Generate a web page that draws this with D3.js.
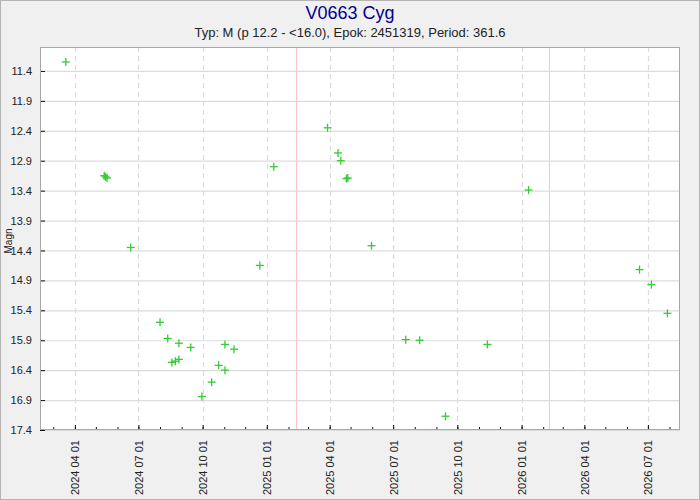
<!DOCTYPE html>
<html><head><meta charset="utf-8">
<script src="https://cdn.jsdelivr.net/npm/d3@7"></script>
<style>body{margin:0;background:#f0f0f0;font-family:"Liberation Sans",Arial,sans-serif}</style>
</head><body>
<svg id="c" width="700" height="500"></svg>
<script>
const title = "V0663 Cyg";
const subtitle = "Typ: M (p 12.2 - <16.0), Epok: 2451319, Period: 361.6";
const dates = ["2024-03-19","2024-05-13","2024-05-15","2024-05-17","2024-06-20",
"2024-08-01","2024-08-12","2024-08-18","2024-08-23","2024-08-28","2024-08-28","2024-09-14",
"2024-09-30","2024-10-14","2024-10-24","2024-11-02","2024-11-02","2024-11-15",
"2024-12-22","2025-01-11","2025-03-29","2025-04-13","2025-04-17","2025-04-25","2025-04-27",
"2025-05-31","2025-07-19","2025-08-08","2025-09-14","2025-11-13","2026-01-11",
"2026-06-19","2026-07-06","2026-07-29"];
const mags = [11.25,13.15,13.17,13.19,14.35,
15.6,15.87,16.27,16.25,15.95,16.22,16.02,
16.84,16.6,16.32,15.97,16.4,16.05,
14.65,13.0,12.35,12.77,12.9,13.2,13.19,
14.32,15.89,15.9,17.17,15.97,13.39,
14.72,14.97,15.45];
const maxima = ["2025-02-12","2026-02-10"];
const yTicks = [11.4,11.9,12.4,12.9,13.4,13.9,14.4,14.9,15.4,15.9,16.4,16.9,17.4];
const xDomain = ["2024-02-11","2026-08-16"];
const yDomain = [11.0,17.4];

const parse = d3.utcParse("%Y-%m-%d");
const svg = d3.select("#c");
const L=40,R=680,T=47,B=430;
const x = d3.scaleUtc().domain(xDomain.map(parse)).range([L,R]);
const y = d3.scaleLinear().domain(yDomain).range([T,B]);

svg.append("rect").attr("x",0.5).attr("y",0.5).attr("width",699).attr("height",499)
  .attr("fill","#f0f0f0").attr("stroke","#b4b4b4");
svg.append("rect").attr("x",L).attr("y",T).attr("width",R-L).attr("height",B-T).attr("fill","#fff");

// grid
const majors = d3.utcMonth.every(3).range(x.domain()[0], x.domain()[1]).filter(d=>d.getUTCMonth()%3===0);
svg.append("g").selectAll("line").data(yTicks).join("line")
  .attr("x1",L).attr("x2",R).attr("y1",d=>y(d)+0.5).attr("y2",d=>y(d)+0.5)
  .attr("stroke","#dcdcdc").attr("stroke-width",1.2);
svg.append("g").selectAll("line").data(majors).join("line")
  .attr("x1",d=>Math.round(x(d))+0.5).attr("x2",d=>Math.round(x(d))+0.5).attr("y1",T).attr("y2",B)
  .attr("stroke","#dcdcdc").attr("stroke-width",1.2).attr("stroke-dasharray","5,4");
svg.append("g").selectAll("line").data(maxima.map(parse)).join("line")
  .attr("x1",d=>Math.round(x(d))+0.5).attr("x2",d=>Math.round(x(d))+0.5).attr("y1",T).attr("y2",B)
  .attr("stroke","#ffc4c4").attr("stroke-width",1);

// axes
const yAxis = d3.axisLeft(y).tickValues(yTicks).tickSize(-5).tickPadding(8).tickFormat(d3.format(".1f"));
const gy = svg.append("g").attr("transform",`translate(${L},0)`).call(yAxis);
gy.select(".domain").remove();
gy.selectAll("text").attr("font-size",11).attr("fill","#222").attr("font-family","Liberation Sans, Arial, sans-serif");
gy.selectAll("line").attr("stroke","#111");

const minors = d3.utcMonth.range(x.domain()[0], x.domain()[1]);
const gxm = svg.append("g").attr("transform",`translate(0,${B})`)
  .call(d3.axisBottom(x).tickValues(minors).tickSize(-3).tickFormat(""));
gxm.select(".domain").remove();
gxm.selectAll("line").attr("stroke","#111");
const gx = svg.append("g").attr("transform",`translate(0,${B})`)
  .call(d3.axisBottom(x).tickValues(majors).tickSize(-5).tickFormat(d3.utcFormat("%Y %m %d")));
gx.select(".domain").remove();
gx.selectAll("line").attr("stroke","#111");
gx.selectAll("text").attr("font-size",11).attr("fill","#222")
  .attr("font-family","Liberation Sans, Arial, sans-serif")
  .attr("transform","rotate(-90)").attr("text-anchor","end").attr("x",-10).attr("y",0).attr("dy","0.35em");

svg.append("rect").attr("x",L+0.5).attr("y",T+0.5).attr("width",R-L-1).attr("height",B-T-1)
  .attr("fill","none").attr("stroke","#a8a8a8");

// points
const pts = dates.map((d,i)=>({t:parse(d),m:mags[i]}));
const g = svg.append("g").attr("stroke","#33cc33").attr("stroke-width",1.3);
pts.forEach(p=>{
  const px=x(p.t), py=y(p.m);
  g.append("line").attr("x1",px-4).attr("x2",px+4).attr("y1",py).attr("y2",py);
  g.append("line").attr("x1",px).attr("x2",px).attr("y1",py-4).attr("y2",py+4);
});

svg.append("text").attr("x",350).attr("y",19).attr("text-anchor","middle")
  .attr("font-size",18).attr("fill","#000090").text(title);
svg.append("text").attr("x",350).attr("y",37).attr("text-anchor","middle")
  .attr("font-size",13).attr("fill","#222").text(subtitle);
svg.append("text").attr("transform","translate(12,241) rotate(-90)").attr("text-anchor","middle")
  .attr("font-size",10).attr("fill","#222").text("Magn");
</script>
</body></html>
